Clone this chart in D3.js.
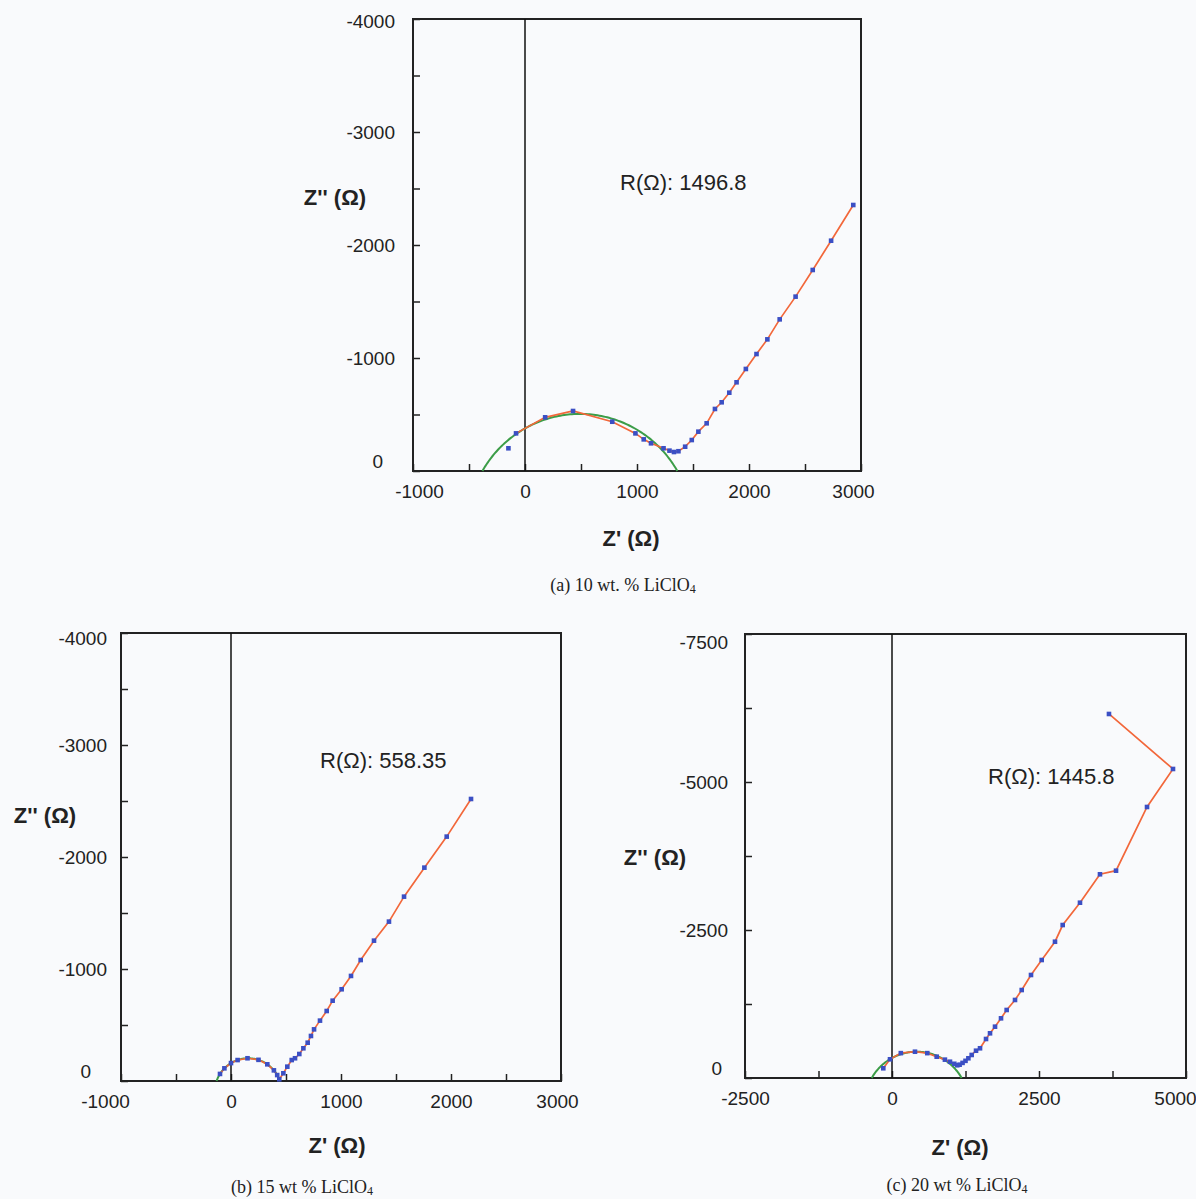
<!DOCTYPE html>
<html>
<head>
<meta charset="utf-8">
<script src="https://cdnjs.cloudflare.com/ajax/libs/d3/7.8.5/d3.min.js"></script>
<style>
  body { margin: 0; background: #f9fafc; }
  svg { display: block; font-family: 'Liberation Sans', Arial, sans-serif; }
</style>
</head>
<body>
<svg id="chart" width="1196" height="1199"></svg>
<script>
// (a) 10 wt.% LiClO4, measured Z' / Z'' (ohm)
const zReA = [-148, -80, 180, 429, 779, 986, 1060, 1125, 1237, 1290, 1330, 1370, 1430, 1489, 1548, 1622,
  1696, 1756, 1824, 1889, 1972, 2067, 2164, 2274, 2416, 2569, 2733, 2931];
const zImA = [-201, -333, -475, -531, -436, -333, -280, -245, -201, -180, -168, -175, -215, -274, -348, -422,
  -549, -608, -693, -785, -903, -1035, -1165, -1342, -1543, -1779, -2038, -2354];

// (b) 15 wt.% LiClO4
const zReB = [-100, -60, 0, 60, 150, 250, 330, 390, 420, 439, 476, 512, 552, 582, 621, 658, 697, 727, 755,
  809, 870, 924, 1006, 1091, 1179, 1300, 1436, 1573, 1758, 1961, 2182];
const zImB = [-63, -113, -160, -187, -203, -189, -149, -95, -53, -15, -69, -128, -187, -203, -241, -292, -342,
  -402, -461, -539, -625, -717, -819, -938, -1080, -1253, -1423, -1646, -1905, -2182, -2518];

// (c) 20 wt.% LiClO4
const zReC = [-148, -34, 150, 391, 600, 760, 900, 986, 1060, 1110, 1150, 1200, 1250, 1299, 1355, 1429, 1497,
  1599, 1667, 1752, 1854, 1950, 2092, 2206, 2364, 2546, 2772, 2903, 3197, 3537, 3810, 4337, 4779, 3690];
const zImC = [-164, -316, -420, -444, -420, -360, -310, -275, -240, -215, -225, -255, -290, -333, -389, -461,
  -502, -659, -755, -867, -1008, -1149, -1318, -1486, -1740, -1993, -2302, -2584, -2961, -3441, -3502, -4578,
  -5220, -6149];

// fitted (depressed) semicircle: centre Z', centre depth below axis, radius
const arcA = [490, 497, 1002];
const arcB = [157, 103, 306];
const arcC = [420, 437, 881];

const resistances = ['1496.8', '558.35', '1445.8'];
const captions = ['(a) 10 wt. % LiClO', '(b) 15 wt % LiClO', '(c) 20 wt % LiClO'];

const xTicksAB = [-1000, 0, 1000, 2000, 3000];
const yTicksAB = [0, -1000, -2000, -3000, -4000];
const xTicksC = [-2500, 0, 2500, 5000];
const yTicksC = [0, -2500, -5000, -7500];

class Nyquist {
  constructor(_config) {
    this.config = _config;
    this.init();
  }

  init() {
    let vis = this;
    let c = vis.config;

    vis.g = d3.select(c.parentElement).append('g');

    vis.x = d3.scaleLinear().domain(c.xDomain).range([c.box.left, c.box.right]);
    vis.y = d3.scaleLinear().domain(c.yDomain).range([c.box.bottom, c.box.top]);

    vis.render();
  }

  render() {
    let vis = this;
    let c = vis.config;

    // ticks every minor step, labels only on the listed values
    const fmt = d => c.xTicks.includes(d) ? d : '';
    const fmtY = d => c.yTicks.includes(d) ? d : '';

    const xAxis = d3.axisBottom(vis.x)
      .tickValues(d3.range(c.xDomain[0], c.xDomain[1] + 1, c.xMinor))
      .tickFormat(fmt)
      .tickSize(-7)
      .tickPadding(14);
    const yAxis = d3.axisLeft(vis.y)
      .tickValues(d3.range(c.yDomain[0], c.yDomain[1] - 1, -c.yMinor))
      .tickFormat(fmtY)
      .tickSize(-7)
      .tickPadding(c.yPad);

    let xg = vis.g.append('g')
      .attr('transform', `translate(0,${c.box.bottom})`)
      .call(xAxis)
      .call(g => g.select('.domain').remove());
    xg.selectAll('.tick text').filter(d => d === c.xDomain[0]).attr('dx', c.xNudge[0]);
    xg.selectAll('.tick text').filter(d => d === c.xDomain[1]).attr('dx', c.xNudge[1]);

    let yg = vis.g.append('g')
      .attr('transform', `translate(${c.box.left},0)`)
      .call(yAxis)
      .call(g => g.select('.domain').remove());
    // Excel nudges the end labels inward
    yg.selectAll('.tick text').filter(d => d === 0).attr('dy', '-0.2em').attr('dx', c.zeroNudge);
    yg.selectAll('.tick text').filter(d => d === c.yDomain[1]).attr('dy', c.topNudge);

    vis.g.selectAll('.tick line').attr('stroke', '#222').attr('stroke-width', 1.5);
    vis.g.selectAll('.tick text')
      .attr('fill', '#222')
      .style('font-size', '19px')
      .style('font-family', "'Liberation Sans', Arial, sans-serif");

    // frame
    vis.g.append('rect')
      .attr('x', c.box.left)
      .attr('y', c.box.top)
      .attr('width', c.box.right - c.box.left)
      .attr('height', c.box.bottom - c.box.top)
      .style('fill', 'none')
      .style('stroke', '#222')
      .style('stroke-width', 2);

    // Z' = 0 line
    vis.g.append('line')
      .attr('x1', vis.x(0)).attr('x2', vis.x(0))
      .attr('y1', c.box.top).attr('y2', c.box.bottom)
      .style('stroke', '#111')
      .style('stroke-width', 1.5);

    // fitted arc
    const [cx, depth, r] = c.arc;
    const a0 = Math.asin(depth / r);
    const arcPts = d3.range(0, 121).map(i => {
      const t = a0 + (Math.PI - 2 * a0) * i / 120;
      return [cx + r * Math.cos(t), depth - r * Math.sin(t)];
    });
    const line = d3.line().x(d => vis.x(d[0])).y(d => vis.y(d[1]));

    vis.g.append('path')
      .attr('d', line(arcPts))
      .style('fill', 'none')
      .style('stroke', '#3c9d48')
      .style('stroke-width', 2);

    const pts = c.zRe.map((v, i) => [v, c.zIm[i]]);

    vis.g.append('path')
      .attr('d', line(pts.slice(c.fitFrom)))
      .style('fill', 'none')
      .style('stroke', '#f2673a')
      .style('stroke-width', 1.7);

    vis.g.selectAll('.pt')
      .data(pts)
      .join('rect')
      .attr('class', 'pt')
      .attr('x', d => vis.x(d[0]) - 2.3)
      .attr('y', d => vis.y(d[1]) - 2.3)
      .attr('width', 4.6)
      .attr('height', 4.6)
      .style('fill', '#3b4fc4');

    // texts
    vis.g.append('text')
      .attr('x', c.rLabel[0])
      .attr('y', c.rLabel[1])
      .attr('dominant-baseline', 'central')
      .style('font-size', '22px')
      .style('fill', '#222')
      .text(`R(\u03A9): ${c.resistance}`);

    vis.g.append('text')
      .attr('x', c.yTitle[0])
      .attr('y', c.yTitle[1])
      .attr('text-anchor', 'middle')
      .attr('dominant-baseline', 'central')
      .style('font-size', '22px')
      .style('font-weight', 'bold')
      .style('fill', '#222')
      .text('Z\'\' (\u03A9)');

    vis.g.append('text')
      .attr('x', c.xTitle[0])
      .attr('y', c.xTitle[1])
      .attr('text-anchor', 'middle')
      .attr('dominant-baseline', 'central')
      .style('font-size', '22px')
      .style('font-weight', 'bold')
      .style('fill', '#222')
      .text('Z\' (\u03A9)');

    let cap = vis.g.append('text')
      .attr('x', c.caption[0])
      .attr('y', c.caption[1])
      .attr('text-anchor', 'middle')
      .attr('dominant-baseline', 'central')
      .style('font-family', "'Liberation Serif', 'Times New Roman', serif")
      .style('font-size', '18px')
      .style('fill', '#222');
    cap.append('tspan').text(c.captionText);
    cap.append('tspan')
      .attr('dy', 4)
      .style('font-size', '12px')
      .text('4');
  }
}

new Nyquist({
  parentElement: '#chart',
  box: { left: 413, top: 19, right: 861, bottom: 471 },
  xDomain: [-1000, 3000], yDomain: [0, -4000],
  xTicks: xTicksAB, yTicks: yTicksAB, xMinor: 500, yMinor: 500,
  yPad: 18, topNudge: '0.45em', zeroNudge: -12, xNudge: [6, -8],
  zRe: zReA, zIm: zImA, fitFrom: 1, arc: arcA,
  resistance: resistances[0], rLabel: [620, 182],
  yTitle: [335, 197], xTitle: [631, 538],
  caption: [623, 585], captionText: captions[0]
});

new Nyquist({
  parentElement: '#chart',
  box: { left: 121, top: 633, right: 561, bottom: 1081 },
  xDomain: [-1000, 3000], yDomain: [0, -4000],
  xTicks: xTicksAB, yTicks: yTicksAB, xMinor: 500, yMinor: 500,
  yPad: 14, topNudge: '0.6em', zeroNudge: -16, xNudge: [-16, -4],
  zRe: zReB, zIm: zImB, fitFrom: 0, arc: arcB,
  resistance: resistances[1], rLabel: [320, 760],
  yTitle: [45, 815], xTitle: [337, 1145],
  caption: [302, 1187], captionText: captions[1]
});

new Nyquist({
  parentElement: '#chart',
  box: { left: 745, top: 634, right: 1186, bottom: 1078 },
  xDomain: [-2500, 5000], yDomain: [0, -7500],
  xTicks: xTicksC, yTicks: yTicksC, xMinor: 1250, yMinor: 1250,
  yPad: 17, topNudge: '0.75em', zeroNudge: -6, xNudge: [0, -11],
  zRe: zReC, zIm: zImC, fitFrom: 0, arc: arcC,
  resistance: resistances[2], rLabel: [988, 776],
  yTitle: [655, 857], xTitle: [960, 1147],
  caption: [957, 1185], captionText: captions[2]
});
</script>
</body>
</html>
